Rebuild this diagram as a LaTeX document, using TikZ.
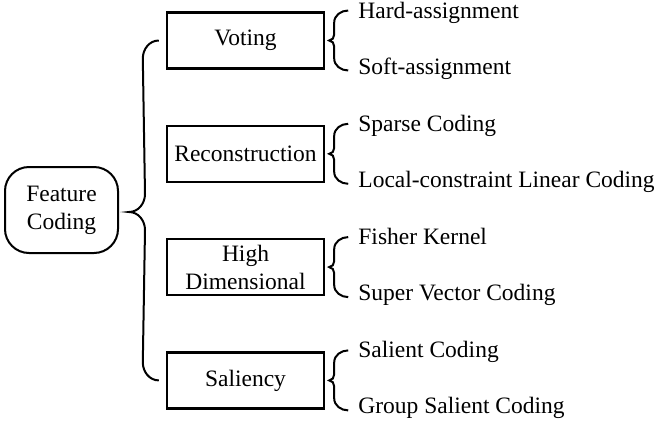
\documentclass[tikz,border=0pt]{standalone}
\usepackage{fontspec}
\setmainfont{Liberation Serif}
\usetikzlibrary{calc}

\begin{document}
\begin{tikzpicture}[x=1pt,y=1pt,
    box/.style={draw,line width=2.4pt,minimum width=157pt,minimum height=56pt,inner sep=2pt,align=center,font=\fontsize{23.5}{28}\selectfont},
    rootnode/.style={draw,line width=2pt,rounded corners=24pt,minimum width=113pt,minimum height=86pt,align=center,font=\fontsize{23.5}{28}\selectfont},
    leaf/.style={anchor=base west,inner sep=0pt,font=\fontsize{23.5}{28}\selectfont},
    curl/.style={draw,line width=2pt},
    curly/.pic={\draw[curl] (19,30) to[out=180,in=90] (5,18) -- (5,6) to[out=-90,in=0] (0,0) to[out=0,in=90] (5,-6) -- (5,-18) to[out=-90,in=180] (19,-30);},
    node distance=113.3pt]
    \useasboundingbox (0,0) rectangle (662,-429);
    % the root and the four groups
    \node[rootnode] (root) at (61.5,-210) {Feature\\Coding};
    \node[box] (voting) at (245.5,-40.5) {Voting};
    \node[box] (recon) [below of=voting] {Reconstruction};
    \node[box] (highdim) [below of=recon] {High\\Dimensional};
    \node[box] (saliency) [below of=highdim] {Saliency};
    % the methods of each group
    \node[leaf] (hard) at ([shift={(33pt,22.5pt)}]voting.east) {Hard-assignment};
    \node[leaf] (soft) at ([shift={(33pt,-33.5pt)}]voting.east) {Soft-assignment};
    \node[leaf] (sparse) at ([shift={(33pt,22.5pt)}]recon.east) {Sparse Coding};
    \node[leaf] (llc) at ([shift={(33pt,-33.5pt)}]recon.east) {Local-constraint Linear Coding};
    \node[leaf] (fisher) at ([shift={(33pt,22.5pt)}]highdim.east) {Fisher Kernel};
    \node[leaf] (supervec) at ([shift={(33pt,-33.5pt)}]highdim.east) {Super Vector Coding};
    \node[leaf] (salient) at ([shift={(33pt,22.5pt)}]saliency.east) {Salient Coding};
    \node[leaf] (groupsal) at ([shift={(33pt,-33.5pt)}]saliency.east) {Group Salient Coding};
    % braces
    \coordinate (tip) at ([shift={(10pt,-2pt)}]root.east);
    \draw[curl] ([xshift=-7pt]voting.west) to[out=180,in=90] ++(-16,-18) -- ([shift={(16pt,18pt)}]tip)
        to[out=-90,in=0] (tip) to[out=0,in=90] ([shift={(16pt,-18pt)}]tip)
        -- ([shift={(-23pt,18pt)}]saliency.west) to[out=-90,in=180] ([xshift=-7pt]saliency.west);
    \foreach \grp in {voting,recon,highdim,saliency}
        \pic at ([xshift=4pt]\grp.east) {curly};
\end{tikzpicture}
\end{document}
